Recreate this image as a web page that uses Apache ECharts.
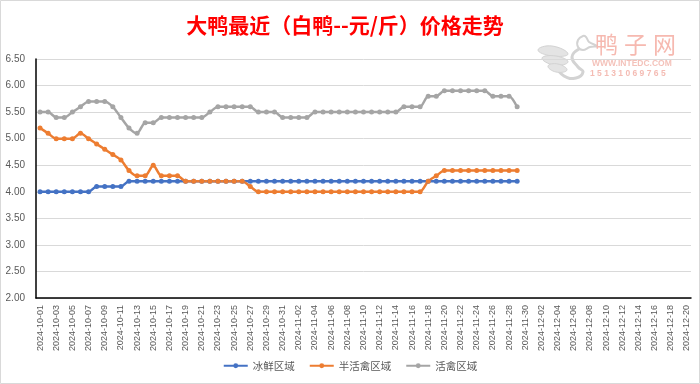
<!DOCTYPE html>
<html><head><meta charset="utf-8">
<script src="https://cdn.jsdelivr.net/npm/echarts@6/dist/echarts.min.js"></script>
<style>html,body{margin:0;padding:0;background:#fff}#c{width:700px;height:384px}</style>
</head><body><div id="c"></div>
<script>
// categories: daily dates 2024-10-01 .. 2024-12-20
const startDate = '2024-10-01';
const dayCount = 81;
const seriesNames = ['冰鲜区域', '半活禽区域', '活禽区域'];
const iced = [4.0,4.0,4.0,4.0,4.0,4.0,4.0,4.1,4.1,4.1,4.1,4.2,4.2,4.2,4.2,4.2,4.2,4.2,4.2,4.2,
  4.2,4.2,4.2,4.2,4.2,4.2,4.2,4.2,4.2,4.2,4.2,4.2,4.2,4.2,4.2,4.2,4.2,4.2,4.2,4.2,
  4.2,4.2,4.2,4.2,4.2,4.2,4.2,4.2,4.2,4.2,4.2,4.2,4.2,4.2,4.2,4.2,4.2,4.2,4.2,4.2];
const semiLive = [5.2,5.1,5.0,5.0,5.0,5.1,5.0,4.9,4.8,4.7,4.6,4.4,4.3,4.3,4.5,4.3,4.3,4.3,4.2,4.2,
  4.2,4.2,4.2,4.2,4.2,4.2,4.1,4.0,4.0,4.0,4.0,4.0,4.0,4.0,4.0,4.0,4.0,4.0,4.0,4.0,
  4.0,4.0,4.0,4.0,4.0,4.0,4.0,4.0,4.2,4.3,4.4,4.4,4.4,4.4,4.4,4.4,4.4,4.4,4.4,4.4];
const live = [5.5,5.5,5.4,5.4,5.5,5.6,5.7,5.7,5.7,5.6,5.4,5.2,5.1,5.3,5.3,5.4,5.4,5.4,5.4,5.4,
  5.4,5.5,5.6,5.6,5.6,5.6,5.6,5.5,5.5,5.5,5.4,5.4,5.4,5.4,5.5,5.5,5.5,5.5,5.5,5.5,
  5.5,5.5,5.5,5.5,5.5,5.6,5.6,5.6,5.8,5.8,5.9,5.9,5.9,5.9,5.9,5.9,5.8,5.8,5.8,5.6];
const yTicks = [2.0,2.5,3.0,3.5,4.0,4.5,5.0,5.5,6.0,6.5];

const categories = [];
(function(){
  const d0 = new Date(startDate + 'T00:00:00Z');
  for (let i = 0; i < dayCount; i++) {
    const d = new Date(d0.getTime() + i * 86400000);
    categories.push(d.toISOString().slice(0,10));
  }
})();

const colors = ['#4472C4', '#ED7D31', '#A5A5A5'];
const chart = echarts.init(document.getElementById('c'), null, {renderer:'canvas'});
const mk = (name, data, color) => ({
  name, type:'line', data, smooth:0.25,
  symbol:'circle', symbolSize:5, showSymbol:true,
  itemStyle:{color}, lineStyle:{color, width:2.5},
  animation:false
});
const wmGray = '#D3D3D3';
chart.setOption({
  animation:false,
  backgroundColor:'#fff',
  title:{text:'大鸭最近（白鸭--元/斤）价格走势', left:340, top:10, textAlign:'center',
    textStyle:{color:'#FF0000', fontSize:21, fontWeight:'bold', fontFamily:'Noto Sans CJK SC'}},
  legend:{bottom:8, left:'center', itemWidth:24, itemHeight:6, itemGap:14,
    data: seriesNames,
    textStyle:{color:'#595959', fontSize:10.5, fontFamily:'Noto Sans CJK SC'}},
  grid:{left:36, right:9, top:59, bottom:86, containLabel:false},
  xAxis:{type:'category', data:categories, boundaryGap:true,
    axisLine:{lineStyle:{color:'#000', width:1.5}},
    axisTick:{show:false},
    axisLabel:{rotate:90, interval:1, color:'#595959', fontSize:9, margin:7, fontFamily:'Liberation Sans'}},
  yAxis:{type:'value', min:2, max:6.5, interval:0.5,
    axisLine:{show:true, lineStyle:{color:'#000', width:1.5}},
    axisTick:{show:false},
    splitLine:{lineStyle:{color:'#D9D9D9', width:1}},
    axisLabel:{color:'#595959', fontSize:10, margin:11, fontFamily:'Liberation Sans',
      formatter:v=>v.toFixed(2)}},
  series:[mk(seriesNames[0], iced, colors[0]), mk(seriesNames[1], semiLive, colors[1]), mk(seriesNames[2], live, colors[2])],
  graphic:[
    {type:'rect', shape:{x:0.5,y:0.5,width:699,height:383}, style:{fill:'none', stroke:'#D9D9D9', lineWidth:1}, silent:true},
    // watermark logo (approximate duck outline)
    {type:'polygon', silent:true, shape:{points:[[583,36],[578,40],[578,47],[583,50],[590,47],[597,46],[589,42],[586,37]], smooth:0.4}, style:{fill:'none', stroke:wmGray, lineWidth:2}},
    {type:'polyline', silent:true, shape:{points:[[579,49],[572,57],[578,67],[583,72],[576,78],[564,76],[556,66]], smooth:0.5}, style:{fill:'none', stroke:wmGray, lineWidth:3}},
    {type:'polygon', silent:true, shape:{points:[[538,50],[552,46],[568,54],[552,56]], smooth:0.5}, style:{fill:'#E4E4E4', stroke:wmGray, lineWidth:1}},
    {type:'polygon', silent:true, shape:{points:[[542,58],[556,56],[568,62],[554,65]], smooth:0.5}, style:{fill:'#E4E4E4', stroke:wmGray, lineWidth:1}},
    {type:'polygon', silent:true, shape:{points:[[548,66],[558,64],[567,70],[556,72]], smooth:0.5}, style:{fill:'#E4E4E4', stroke:wmGray, lineWidth:1}},
    {type:'text', left:595, top:33, style:{text:'鸭', fill:'#F6B9B0', font:'23px "Noto Sans CJK SC"'}, silent:true},
    {type:'text', left:624, top:33, style:{text:'子', fill:'#F6B9B0', font:'23px "Noto Sans CJK SC"'}, silent:true},
    {type:'text', left:653, top:33, style:{text:'网', fill:'#F6B9B0', font:'23px "Noto Sans CJK SC"'}, silent:true},
    {type:'text', left:592, top:59, style:{text:'WWW.INTEDC.COM', fill:'#F4C2BA', font:'bold 8.5px "Liberation Sans"'}, silent:true},
    {type:'text', left:590, top:69, style:{text:'1 5 1 3 1 0 6 9 7 6 5', fill:'#F4BCB4', font:'bold 8.5px "Liberation Sans"'}, silent:true}
  ]
});
</script></body></html>
